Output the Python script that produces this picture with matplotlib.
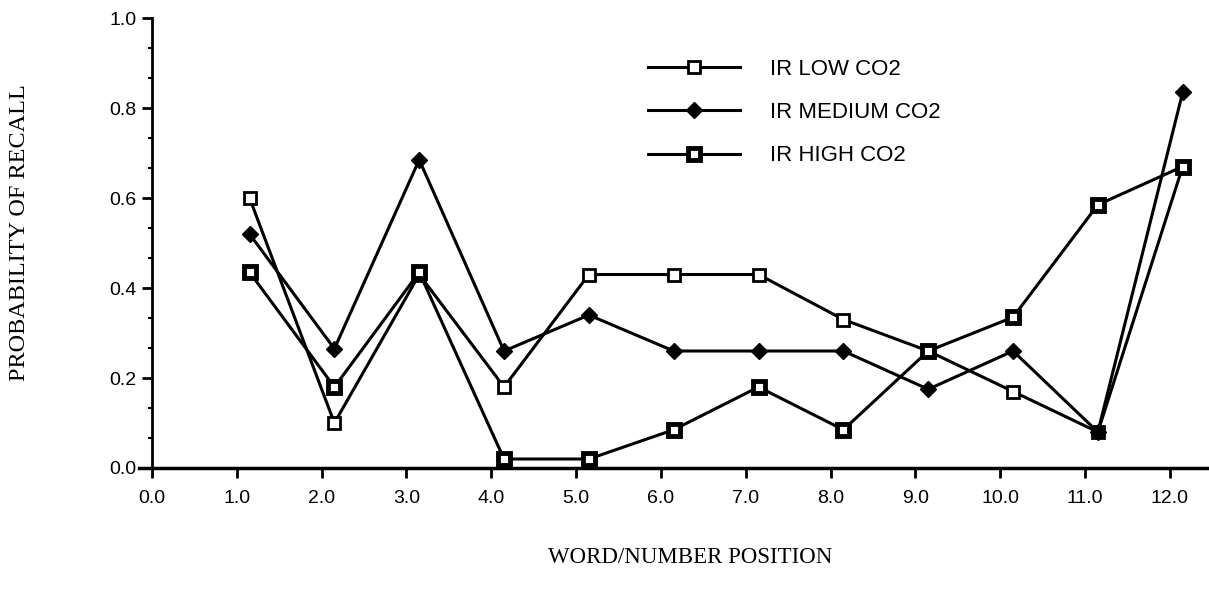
import matplotlib
matplotlib.use("Agg")
import matplotlib.pyplot as plt
from matplotlib.ticker import MultipleLocator, FormatStrFormatter

# word/number positions (points sit a little right of the tick marks)
positions = [1.15, 2.15, 3.15, 4.15, 5.15, 6.15, 7.15, 8.15, 9.15, 10.15, 11.15, 12.15]

low_co2 = [0.60, 0.10, 0.43, 0.18, 0.43, 0.43, 0.43, 0.33, 0.26, 0.17, 0.08, 0.67]
medium_co2 = [0.52, 0.265, 0.685, 0.26, 0.34, 0.26, 0.26, 0.26, 0.175, 0.26, 0.08, 0.835]
high_co2 = [0.435, 0.18, 0.435, 0.02, 0.02, 0.085, 0.18, 0.085, 0.26, 0.335, 0.585, 0.67]

x_ticks = list(range(0, 13))
y_ticks = [0.0, 0.2, 0.4, 0.6, 0.8, 1.0]

fig = plt.figure(figsize=(12.09, 6.01), dpi=100)
ax = fig.add_axes([0.1152, 0.2213, 0.8848, 0.7487])

lw = 2.2
ax.plot(positions, low_co2, color="black", lw=lw, marker="s", ms=8,
        mfc="white", mec="black", mew=2.0, label="IR LOW CO2", zorder=3)
ax.plot(positions, medium_co2, color="black", lw=lw, marker="D", ms=8.5,
        mfc="black", mec="black", label="IR MEDIUM CO2", zorder=3)
ax.plot(positions, high_co2, color="black", lw=lw, marker="s", ms=8.5,
        mfc="white", mec="black", mew=3.5, label="IR HIGH CO2", zorder=3)

ax.set_xlim(-0.15, 12.46)
ax.set_ylim(0, 1.0)

for side in ("top", "right"):
    ax.spines[side].set_visible(False)
ax.spines["left"].set_position(("data", 0))
ax.spines["left"].set_linewidth(2)
ax.spines["bottom"].set_linewidth(2.5)

ax.set_xticks(x_ticks)
ax.set_yticks(y_ticks)
ax.yaxis.set_minor_locator(MultipleLocator(0.2 / 3))
ax.xaxis.set_major_formatter(FormatStrFormatter("%.1f"))
ax.yaxis.set_major_formatter(FormatStrFormatter("%.1f"))

tick_font = "Liberation Sans"
ax.tick_params(axis="x", which="major", direction="out", length=7, width=2,
               pad=9, labelsize=14)
ax.tick_params(axis="y", which="major", direction="out", length=7, width=2,
               pad=4, labelsize=14)
ax.tick_params(axis="y", which="minor", direction="out", length=3, width=1.5)
for lab in ax.get_xticklabels() + ax.get_yticklabels():
    lab.set_family(tick_font)

ax.set_ylabel("PROBABILITY OF RECALL", family="Liberation Serif", fontsize=17.5,
              labelpad=0)
ax.yaxis.set_label_coords(-0.102, 0.524)
ax.set_xlabel("WORD/NUMBER POSITION", family="Liberation Serif", fontsize=16.5)
ax.xaxis.set_label_coords(0.515, -0.175)

leg = ax.legend(loc="upper left", bbox_to_anchor=(0.536, 0.902),
                bbox_transform=fig.transFigure, frameon=False,
                prop={"family": "Liberation Sans", "size": 16},
                handlelength=4.15, handletextpad=1.35, labelspacing=1.0,
                borderpad=0, borderaxespad=0)

fig.savefig("out.png", dpi=100, facecolor="white")
